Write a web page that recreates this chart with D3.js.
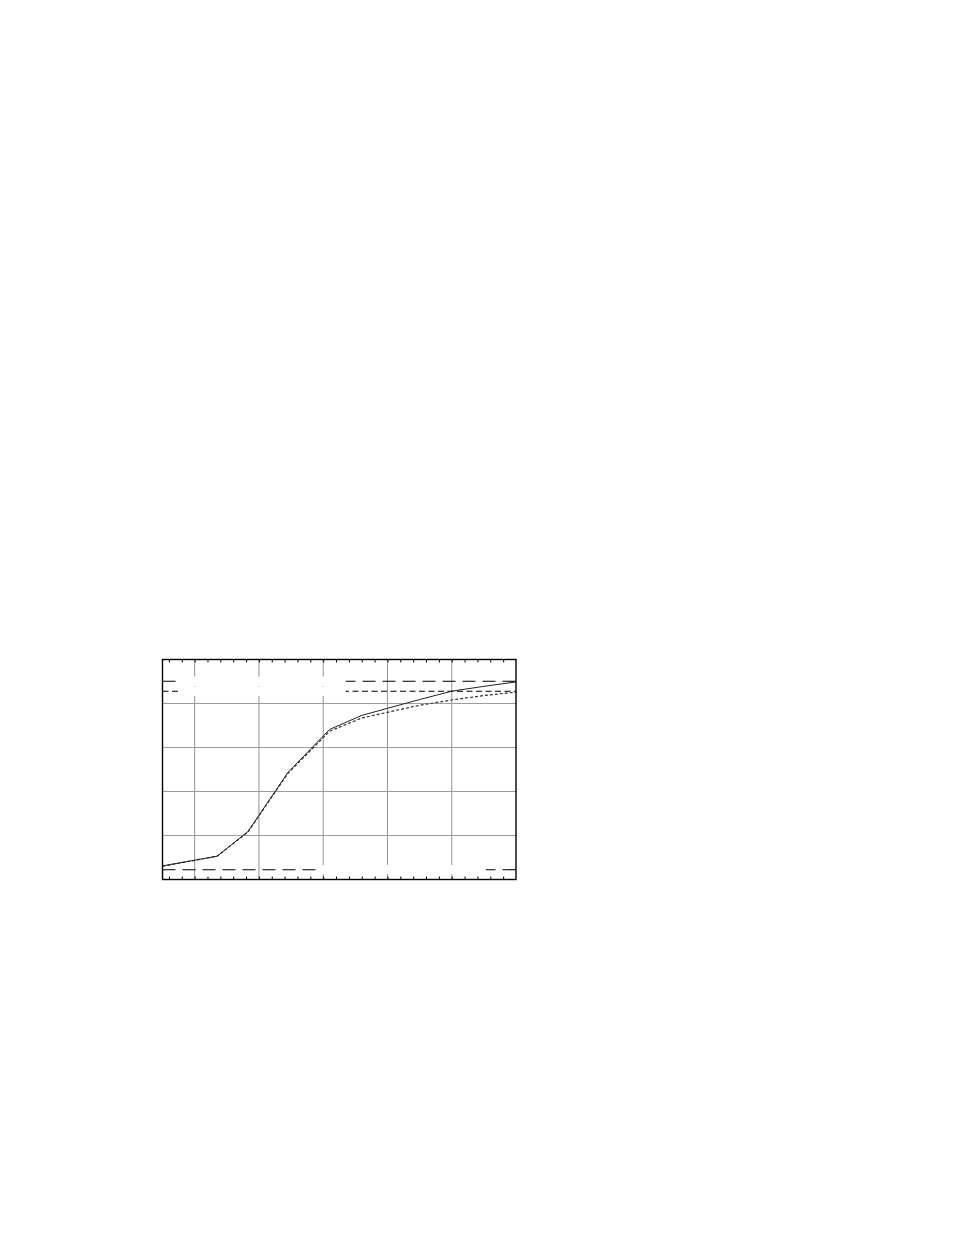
<!DOCTYPE html>
<html>
<head>
<meta charset="utf-8">
<script src="https://cdn.jsdelivr.net/npm/d3@7"></script>
<style>
html,body{margin:0;padding:0;background:#fff;}
svg{display:block;}
</style>
</head>
<body>
<svg id="chart" width="954" height="1235"></svg>
<script>
// ---- data ----
const xValues      = [-0.5, 0.35, 0.83, 1.45, 2.1, 2.6, 3.0, 3.5, 4.0, 4.5, 5.0];
const solidSeries  = [0.31, 0.53, 1.09, 2.43, 3.41, 3.73, 3.89, 4.09, 4.28, 4.39, 4.49];
const dottedSeries = [0.30, 0.53, 1.08, 2.41, 3.37, 3.67, 3.80, 3.96, 4.08, 4.18, 4.26];
const refLevels    = [4.505, 4.277, 0.223];          // long dash, medium dash, bottom long dash
const refStyles    = ["13,7", "6,3.5", "13,7"];
const labelBoxes   = [                               // blank label backgrounds on reference lines
  {ref: 0, x0: -0.24, x1: 2.35},
  {ref: 1, x0: -0.24, x1: 2.35},
  {ref: 2, x0: 1.89,  x1: 4.53}
];
const xGridTicks   = [0, 1, 2, 3, 4];
const yGridTicks   = [1, 2, 3, 4];
const xMinorTicks  = d3.range(-4, 50, 2).map(d => d / 10);

(function () {
  // ---- scales ----
  const pL = 162.5, pR = 516, pT = 659.5, pB = 879.5;
  const x = d3.scaleLinear().domain([-0.5, 5]).range([pL, pR]);
  const y = d3.scaleLinear().domain([0, 5]).range([pB, pT]);

  const svg = d3.select("#chart");
  const g = svg.append("g");

  // grid
  g.append("g").selectAll("line").data(xGridTicks).join("line")
    .attr("x1", d => x(d)).attr("x2", d => x(d))
    .attr("y1", pT).attr("y2", pB)
    .attr("stroke", "#9c9c9c").attr("stroke-width", 1.1);
  g.append("g").selectAll("line").data(yGridTicks).join("line")
    .attr("y1", d => y(d)).attr("y2", d => y(d))
    .attr("x1", pL).attr("x2", pR)
    .attr("stroke", "#9c9c9c").attr("stroke-width", 1.1);

  // minor ticks top & bottom via axes (pointing inward)
  const gb = g.append("g").attr("transform", `translate(0,${pB})`)
    .call(d3.axisBottom(x).tickValues(xMinorTicks).tickFormat(""));
  const gt = g.append("g").attr("transform", `translate(0,${pT})`)
    .call(d3.axisTop(x).tickValues(xMinorTicks).tickFormat(""));
  gb.select(".domain").remove();
  gt.select(".domain").remove();
  gb.selectAll(".tick line").attr("y1", 0).attr("y2", -3).attr("stroke", "#000").attr("stroke-width", 1);
  gt.selectAll(".tick line").attr("y1", 0).attr("y2", 3).attr("stroke", "#000").attr("stroke-width", 1);

  // reference lines
  g.append("g").selectAll("line").data(refLevels).join("line")
    .attr("x1", pL).attr("x2", pR)
    .attr("y1", d => y(d)).attr("y2", d => y(d))
    .attr("stroke", "#000").attr("stroke-width", 1.1)
    .attr("stroke-dasharray", (d, i) => refStyles[i]);

  // blank label boxes
  g.append("g").selectAll("rect").data(labelBoxes).join("rect")
    .attr("x", d => x(d.x0)).attr("width", d => x(d.x1) - x(d.x0))
    .attr("y", d => y(refLevels[d.ref]) - 4.6).attr("height", 9.2)
    .attr("fill", "#fff");

  // curves
  const line = d3.line().x((d, i) => x(xValues[i])).y(d => y(d));
  g.append("path").datum(dottedSeries).attr("d", line)
    .attr("fill", "none").attr("stroke", "#333").attr("stroke-width", 1.2)
    .attr("stroke-dasharray", "3,2");
  g.append("path").datum(solidSeries).attr("d", line)
    .attr("fill", "none").attr("stroke", "#222").attr("stroke-width", 1.0);

  // frame
  g.append("rect").attr("x", pL).attr("y", pT)
    .attr("width", pR - pL).attr("height", pB - pT)
    .attr("fill", "none").attr("stroke", "#000").attr("stroke-width", 1.4);
})();
</script>
</body>
</html>
